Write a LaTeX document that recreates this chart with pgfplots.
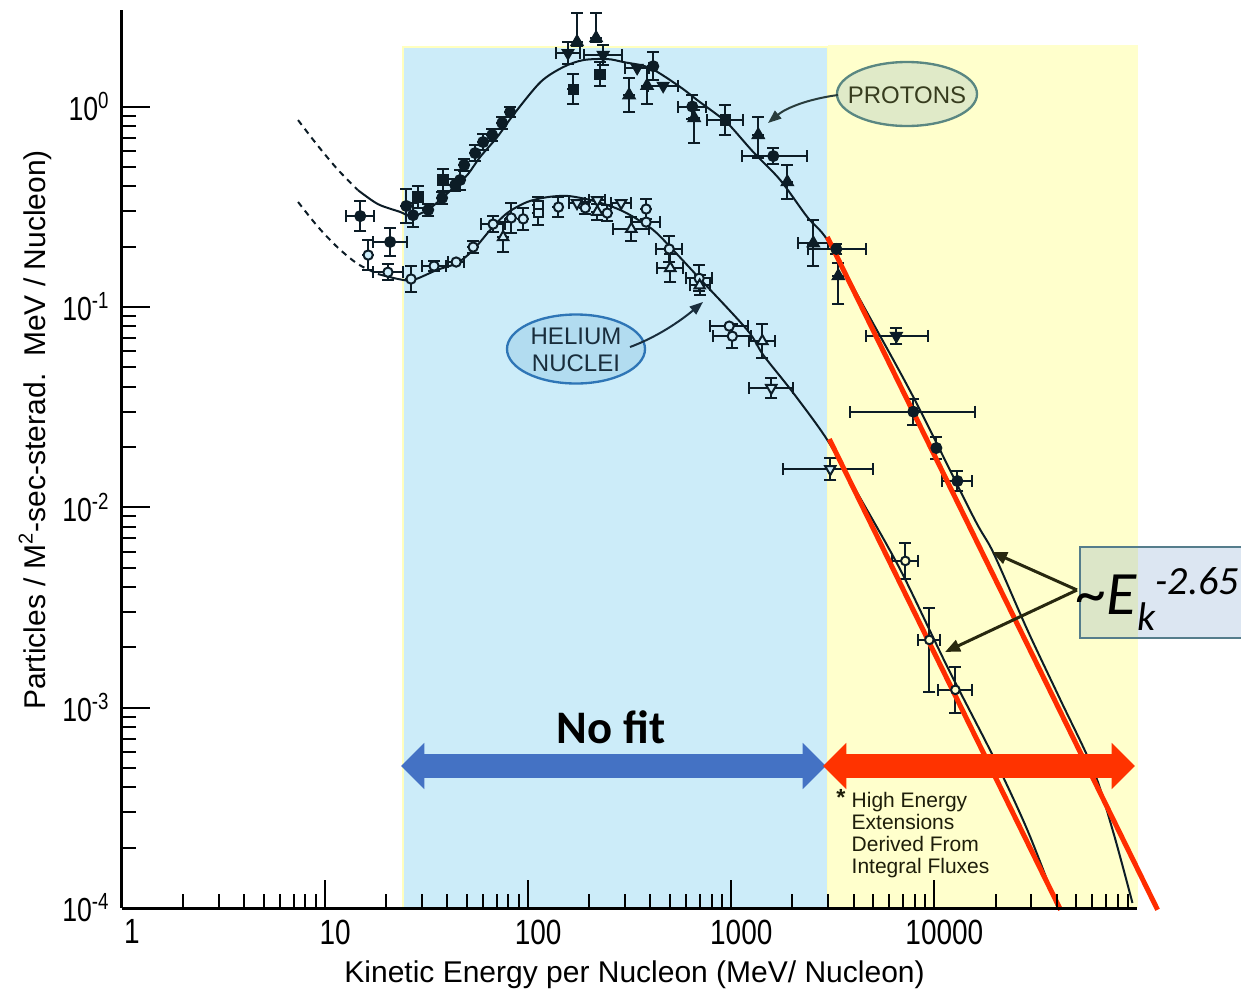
\documentclass[border=0pt]{standalone}
\usepackage{fontspec}
\setmainfont{Liberation Sans}
\newfontfamily\carlito{Carlito}
\newfontfamily\condsans[FakeStretch=0.8]{Liberation Sans}
\usepackage{pgfplots}
\pgfplotsset{compat=1.18}
\usepackage{pgfplotstable}
\usetikzlibrary{arrows.meta}

\definecolor{bluereg}{RGB}{204,236,249}
\definecolor{blueedge}{RGB}{255,255,190}
\definecolor{yellowreg}{RGB}{255,255,204}
\definecolor{datacol}{RGB}{12,28,38}
\definecolor{redline}{RGB}{255,45,0}
\definecolor{arrowblue}{RGB}{68,114,196}
\definecolor{arrowred}{RGB}{255,51,0}
\definecolor{protfill}{RGB}{224,234,200}
\definecolor{protdraw}{RGB}{90,135,130}
\definecolor{prottext}{RGB}{55,60,30}
\definecolor{protarrow}{RGB}{40,60,60}
\definecolor{helfill}{RGB}{178,220,240}
\definecolor{heldraw}{RGB}{46,117,182}
\definecolor{heltext}{RGB}{25,45,60}
\definecolor{boxblue}{RGB}{61,117,183}
\definecolor{boxdraw}{RGB}{85,125,140}
\definecolor{darkol}{RGB}{40,40,15}
\definecolor{notetext}{RGB}{30,30,10}

% proton, filled circles
\pgfplotstableread{
x y xp xm yp ym
14.9 0.284 0.172 0.147 0.188 0.158
20.9 0.211 0.213 0.175 0.175 0.149
25.1 0.319 0 0 0.216 0.177
27.1 0.287 0 0 0.148 0.129
32.2 0.305 0 0 0.071 0.067
37.7 0.350 0 0 0.071 0.067
43.7 0.406 0 0 0.071 0.067
46.2 0.430 0 0 0.122 0.109
48.4 0.511 0 0 0.071 0.067
54.8 0.586 0 0 0.096 0.088
60.0 0.665 0 0 0.096 0.088
66.5 0.721 0 0 0.071 0.067
74.5 0.828 0 0 0.071 0.067
81.5 0.939 0 0 0.059 0.056
413 1.59 0 0 0.175 0.149
643 1.00 0.172 0.147 0.148 0.129
1610 0.566 0.470 0.296 0.096 0.088
3290 0.1945 0.405 0.272 0.059 0.056
7880 0.0300 1.020 0.511 0.161 0.139
10230 0.01977 0 0 0.135 0.119
12980 0.01352 0.186 0.157 0.122 0.109
}\tabPc
% proton, filled squares
\pgfplotstableread{
x y xp xm yp ym
28.7 0.353 0 0 0.135 0.119
38.1 0.430 0 0 0.135 0.119
167 1.22 0 0 0.188 0.158
226 1.45 0 0 0.148 0.129
934 0.857 0.227 0.185 0.188 0.158
}\tabPs
% proton, filled triangles
\pgfplotstableread{
x y xp xm yp ym
174 2.10 0 0 0.395 0.05
216 2.20 0 0 0.330 0.05
314 1.14 0 0 0.216 0.177
385 1.27 0 0 0.230 0.187
657 0.877 0 0 0.10 0.25
1358 0.721 0 0 0.230 0.233
1888 0.420 0 0 0.216 0.177
2535 0.208 0.186 0.157 0.302 0.232
3365 0.1426 0 0 0.160 0.275
}\tabPt
% proton, filled inverted triangles
\pgfplotstableread{
x y xp xm yp ym
157 1.85 0.146 0.127 0.135 0.119
234 1.81 0.240 0.194 0.122 0.109
344 1.56 0.146 0.127 0 0
462 1.27 0.186 0.157 0 0
6500 0.0716 0.438 0.288 0.096 0.088
}\tabPv
% helium, open circles (blue region)
\pgfplotstableread{
x y xp xm yp ym
16.3 0.1815 0 0 0.188 0.158
20.4 0.149 0.186 0.157 0.096 0.088
26.5 0.1378 0 0 0.161 0.139
34.4 0.160 0.146 0.127 0.059 0.056
44.2 0.1675 0.095 0.087 0 0
53.6 0.199 0 0 0.071 0.067
67.2 0.259 0.146 0.127 0.096 0.088
82.5 0.278 0 0 0.188 0.158
94.5 0.275 0 0 0.135 0.119
141 0.315 0 0 0.122 0.109
191 0.312 0 0 0.071 0.067
245 0.294 0 0 0.096 0.088
381 0.308 0 0 0.122 0.109
381 0.265 0.172 0.147 0 0
495 0.1945 0.159 0.137 0.161 0.139
695 0.139 0.159 0.137 0.161 0.139
977 0.0802 0.240 0.194 0 0
1012 0.0714 0.240 0.194 0.148 0.129
}\tabHc
% helium, open circles (yellow region)
\pgfplotstableread{
x y xp xm yp ym
7194 0.00540 0.159 0.137 0.230 0.187
9445 0.002178 0.133 0.118 0.446 0.450
12690 0.001227 0.213 0.175 0.302 0.232
}\tabHy
% helium, open squares
\pgfplotstableread{
x y xp xm yp ym
112 0.323 0 0 0.096 0.088
112 0.294 0 0 0.148 0.129
}\tabHs
% helium, open triangles
\pgfplotstableread{
x y xp xm yp ym
75.3 0.223 0 0 0.188 0.158
219 0.298 0 0 0.096 0.088
322 0.245 0.227 0.185 0.148 0.129
501 0.1564 0.159 0.137 0.175 0.149
699 0.128 0.120 0.107 0.122 0.109
1422 0.0675 0.159 0.137 0.216 0.177
}\tabHt
% helium, open inverted triangles
\pgfplotstableread{
x y xp xm yp ym
174 0.330 0.095 0.087 0 0
219 0.341 0.095 0.087 0 0
287 0.330 0.120 0.107 0 0
1574 0.0394 0.283 0.221 0.122 0.109
3073 0.01552 0.628 0.413 0.135 0.119
}\tabHv

\pgfplotsset{
  ebar/.style={only marks,
    error bars/x dir=both, error bars/y dir=both,
    error bars/x explicit relative, error bars/y explicit relative,
    error bars/error bar style={line width=0.6pt, datacol},
    error bars/error mark options={rotate=90, mark size=1.8pt, line width=0.6pt, datacol}},
}

\begin{document}
\begin{tikzpicture}
\begin{axis}[
  at={(0,0)}, anchor=south west,
  width=304.5pt, height=269.55pt, scale only axis,
  xmode=log, ymode=log, log basis x=10, log basis y=10,
  xmin=1, xmax=9.95e4, ymin=1e-4, ymax=3.05,
  axis x line*=bottom, axis y line*=left,
  axis line style={line width=0.9pt, black},
  axis on top,
  tick align=inside,
  major tick length=8.5pt, minor tick length=4.2pt,
  tick style={line width=0.6pt, black},
  xticklabel={\pgfmathparse{int(round(\tick))}\ifcase\pgfmathresult\relax 1\or 10\or 100\or 1000\or 10000\or 100000\fi},
  yticklabel={\pgfmathparse{int(round(\tick))}10\textsuperscript{\pgfmathresult}},
  xticklabel style={font=\condsans\fontsize{10.5}{12}\selectfont, xshift=3pt},
  yticklabel style={font=\condsans\fontsize{10}{12}\selectfont},
  xlabel={Kinetic Energy per Nucleon (MeV/ Nucleon)},
  xlabel style={font=\fontsize{9}{11}\selectfont, at={(axis description cs:0.505,-0.0746)}, anchor=center},
  ylabel={Particles / M\textsuperscript{2}-sec-sterad.\ \ MeV / Nucleon)},
  ylabel style={font=\fontsize{9}{11}\selectfont, at={(axis description cs:-0.0857,0.532)}, anchor=center},
  clip=false,
]
% shaded regions
\addplot[draw=blueedge, line width=0.6pt, fill=bluereg] coordinates {(24.2,1e-4) (24.2,1.98) (3006,1.98) (3006,1e-4)};
\addplot[draw=none, fill=yellowreg] coordinates {(3006,1e-4) (3006,2.03) (1.01e5,2.03) (1.01e5,1e-4)};

% fitted curves
\addplot[datacol, line width=0.6pt, smooth, dash pattern=on 1.8pt off 1.5pt] coordinates {
(7.36,0.856) (9.24,0.635) (11.6,0.482) (14.5,0.383)};
\addplot[datacol, line width=0.6pt, smooth] coordinates {
(14.5,0.383) (18.2,0.326) (23.4,0.298) (26.8,0.283) (31.8,0.304) (36.9,0.342) (42.7,0.392) (50.1,0.455) (58.0,0.560) (70.4,0.704) (84.4,0.907) (115,1.325) (149,1.575) (187,1.706) (245,1.726) (294,1.668) (399,1.556) (561,1.251) (680,1.077) (883,0.886) (1000,0.790) (1283,0.593) (1742,0.430) (2367,0.281) (2971,0.216) (4318,0.108) (7880,0.0355) (15560,0.00895) (19540,0.00592) (28710,0.002443) (41780,0.001092) (60690,0.000489) (76200,0.000237) (94500,0.000106)};
\addplot[datacol, line width=0.6pt, smooth, dash pattern=on 1.8pt off 1.5pt] coordinates {
(7.36,0.334) (9.24,0.2505) (11.6,0.197) (14.5,0.1637) (18.2,0.146)};
\addplot[datacol, line width=0.6pt, smooth] coordinates {
(18.2,0.146) (22.9,0.1378) (27.1,0.1362) (35.6,0.153) (44.7,0.1656) (53.6,0.1923) (65.0,0.242) (78.8,0.294) (98.9,0.334) (124,0.353) (156,0.358) (202,0.3416) (262,0.315) (318,0.2874) (413,0.242) (501,0.199) (695,0.1394) (1199,0.0767) (1438,0.0575) (2020,0.0372) (2971,0.02168) (4178,0.01178) (6805,0.00487) (11590,0.001597) (19540,0.000568) (28710,0.000245) (40360,0.000101)};

% data points
\addplot[ebar, mark=*, mark size=1.6pt, mark options={fill=datacol, draw=datacol}]
  table[x=x, y=y, x error plus=xp, x error minus=xm, y error plus=yp, y error minus=ym]{\tabPc};
\addplot[ebar, mark=square*, mark size=1.5pt, mark options={fill=datacol, draw=datacol}]
  table[x=x, y=y, x error plus=xp, x error minus=xm, y error plus=yp, y error minus=ym]{\tabPs};
\addplot[ebar, mark=triangle*, mark size=2.1pt, mark options={fill=datacol, draw=datacol}]
  table[x=x, y=y, x error plus=xp, x error minus=xm, y error plus=yp, y error minus=ym]{\tabPt};
\addplot[ebar, mark=triangle*, mark size=2.0pt, mark options={fill=datacol, draw=datacol, rotate=180}]
  table[x=x, y=y, x error plus=xp, x error minus=xm, y error plus=yp, y error minus=ym]{\tabPv};
\addplot[ebar, mark=*, mark size=1.4pt, mark options={fill=bluereg, draw=datacol, line width=0.6pt}]
  table[x=x, y=y, x error plus=xp, x error minus=xm, y error plus=yp, y error minus=ym]{\tabHc};
\addplot[ebar, mark=*, mark size=1.3pt, mark options={fill=yellowreg, draw=datacol, line width=0.6pt}]
  table[x=x, y=y, x error plus=xp, x error minus=xm, y error plus=yp, y error minus=ym]{\tabHy};
\addplot[ebar, mark=square*, mark size=1.3pt, mark options={fill=bluereg, draw=datacol, line width=0.6pt}]
  table[x=x, y=y, x error plus=xp, x error minus=xm, y error plus=yp, y error minus=ym]{\tabHs};
\addplot[ebar, mark=triangle*, mark size=1.8pt, mark options={fill=bluereg, draw=datacol, line width=0.6pt}]
  table[x=x, y=y, x error plus=xp, x error minus=xm, y error plus=yp, y error minus=ym]{\tabHt};
\addplot[ebar, mark=triangle*, mark size=1.8pt, mark options={fill=bluereg, draw=datacol, line width=0.6pt, rotate=180}]
  table[x=x, y=y, x error plus=xp, x error minus=xm, y error plus=yp, y error minus=ym]{\tabHv};

% power-law lines
\addplot[redline, line width=1.5pt] coordinates {(2971,0.2233) (125600,9.8e-5)};
\addplot[redline, line width=1.5pt] coordinates {(3040,0.0219) (41780,9.8e-5)};
\end{axis}

% annotations (image pixel coordinates)
\begin{scope}[x=0.3pt, y=-0.3pt, shift={(-36.6pt,272.4pt)}]
\draw[line width=7.2pt, arrowblue, {Triangle[width=13.5pt,length=7pt]}-{Triangle[width=13.5pt,length=7pt]}] (401,766) -- (826,766);
\draw[line width=7.2pt, arrowred, {Triangle[width=13.5pt,length=7pt]}-{Triangle[width=13.5pt,length=7pt]}] (823,766) -- (1135,766);
\node[font=\carlito\bfseries\fontsize{14}{16}\selectfont] at (611,727) {No fit};

\draw[fill=protfill, draw=protdraw, line width=0.7pt] (907,94) ellipse [x radius=21pt, y radius=9.6pt];
\node[font=\fontsize{7.2}{8}\selectfont, text=prottext] at (907,95) {PROTONS};
\draw[-{Triangle[length=4pt,width=3pt]}, line width=0.6pt, protarrow] (838,95) .. controls (808,99) and (786,108) .. (768,123);

\draw[fill=helfill, draw=heldraw, line width=0.7pt] (576,349) ellipse [x radius=20.7pt, y radius=10.35pt];
\node[align=center, font=\fontsize{7.2}{8.1}\selectfont, text=heltext] at (576,350) {HELIUM\\NUCLEI};
\draw[-{Triangle[length=4pt,width=3pt]}, line width=0.6pt, heltext] (630,347) .. controls (660,336) and (684,318) .. (703,302);

\draw[fill=boxblue, fill opacity=0.18, draw=boxdraw, line width=0.7pt] (1080,547) rectangle (1275,638);
\node[anchor=base west, inner sep=0pt, font=\carlito] at (1075,614) {\fontsize{18.5}{20}\selectfont\textasciitilde\textit{E}\raisebox{-5pt}{\fontsize{12}{12}\selectfont\textit{k}}\raisebox{5.8pt}{\fontsize{12}{12}\selectfont\textit{-2.65}}};
\draw[-{Triangle[length=4.5pt,width=3.6pt]}, line width=0.9pt, darkol] (1077,590) -- (992,552);
\draw[-{Triangle[length=4.5pt,width=3.6pt]}, line width=0.9pt, darkol] (1077,590) -- (945,652);

\node[font=\fontsize{7}{7}\selectfont\bfseries, text=notetext] at (841,797) {*};
\node[anchor=north west, align=left, inner sep=0pt, font=\fontsize{6.3}{6.6}\selectfont, text=notetext] at (851,792) {High Energy\\Extensions\\Derived From\\Integral Fluxes};
\end{scope}

\pgfresetboundingbox
\useasboundingbox (-36.6pt,-25.8pt) rectangle (335.7pt,272.4pt);
\end{tikzpicture}
\end{document}
